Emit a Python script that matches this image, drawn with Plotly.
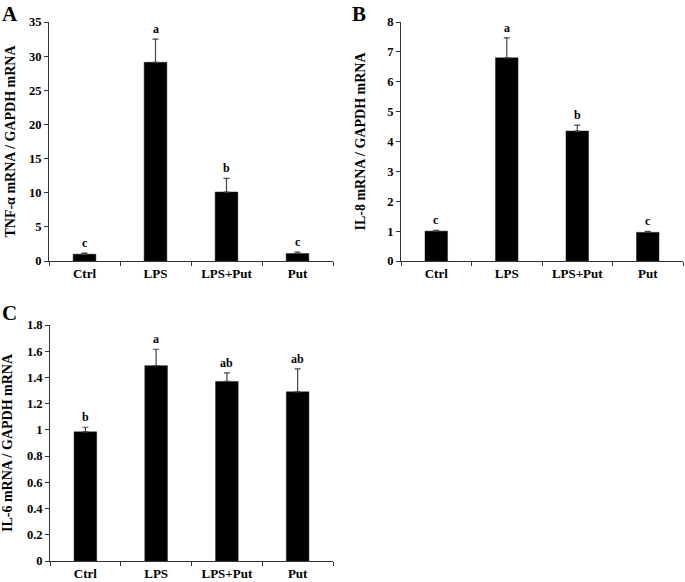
import plotly.graph_objects as go

groups = ["Ctrl", "LPS", "LPS+Put", "Put"]

tnf_mean = [1.0, 29.1, 10.1, 1.1]
tnf_err = [0.15, 3.4, 2.0, 0.2]
tnf_sig = ["c", "a", "b", "c"]

il8_mean = [1.0, 6.8, 4.35, 0.96]
il8_err = [0.03, 0.67, 0.2, 0.03]
il8_sig = ["c", "a", "b", "c"]

il6_mean = [0.985, 1.49, 1.37, 1.29]
il6_err = [0.035, 0.125, 0.065, 0.175]
il6_sig = ["b", "a", "ab", "ab"]

il6_ticks = [0, 0.2, 0.4, 0.6, 0.8, 1, 1.2, 1.4, 1.6, 1.8]
il6_ticktext = ["0", "0.2", "0.4", "0.6", "0.8", "1", "1.2", "1.4", "1.6", "1.8"]

W, H = 685, 582
FONT = "Liberation Serif"


def px_x(p):
    return p / W


def px_y(p):
    return 1 - p / H


panels = [
    # (means, errs, letters, title, yrange, dtick, xdomain px, ydomain px, label, label pos, title standoff)
    (tnf_mean, tnf_err, tnf_sig, "TNF-α mRNA / GAPDH mRNA", [0, 35], 5, (49, 333), (22, 261), "A", (0, 0), 10),
    (il8_mean, il8_err, il8_sig, "IL-8 mRNA / GAPDH mRNA", [0, 8], 1, (401, 683), (22, 261), "B", (350, 0), 18),
    (il6_mean, il6_err, il6_sig, "IL-6 mRNA / GAPDH mRNA", [0, 1.8], 0.2, (50, 333), (325, 561), "C", (0, 299), 10),
]

fig = go.Figure()
annotations = []

for i, (mean, err, sig, title, yr, dt, xd, yd, lab, lpos, so) in enumerate(panels):
    n = "" if i == 0 else str(i + 1)
    fig.add_trace(go.Bar(
        x=groups, y=mean, width=0.32,
        marker=dict(color="black", line=dict(color="#222", width=0.5)),
        error_y=dict(type="data", symmetric=False, array=err, arrayminus=[0] * len(err),
                     color="#444", thickness=1.2, width=3),
        xaxis="x" + n, yaxis="y" + n, showlegend=False,
    ))
    for g, m, e, s in zip(groups, mean, err, sig):
        annotations.append(dict(
            x=g, y=m + e, xref="x" + n, yref="y" + n, text=s, showarrow=False,
            yanchor="bottom", yshift=1, font=dict(family=FONT, size=12, color="black", weight="bold"),
        ))
    annotations.append(dict(
        x=px_x(lpos[0]), y=px_y(lpos[1]), xref="paper", yref="paper", text=lab,
        showarrow=False, xanchor="left", yanchor="top",
        font=dict(family=FONT, size=21, color="black", weight="bold"),
    ))
    xa = dict(
        domain=[px_x(xd[0]), px_x(xd[1])], anchor="y" + n, type="category",
        range=[-0.5, 3.5], showline=True, linecolor="#333", linewidth=1,
        ticks="outside", tickson="boundaries", ticklen=4, tickcolor="#333",
        showgrid=False, automargin=False,
        tickfont=dict(family=FONT, size=13, color="black", weight="bold"),
    )
    ya = dict(
        domain=[px_y(yd[1]), px_y(yd[0])], anchor="x" + n, range=yr,
        showline=True, linecolor="#333", linewidth=1,
        ticks="outside", ticklen=4, tickcolor="#333", showgrid=False, zeroline=False,
        automargin=False,
        title=dict(text=title, font=dict(family=FONT, size=14, color="black", weight="bold"), standoff=so),
        tickfont=dict(family=FONT, size=12.5, color="black", weight="bold"),
    )
    if lab == "C":
        ya.update(tickvals=il6_ticks, ticktext=il6_ticktext)
    else:
        ya.update(dtick=dt, tick0=0)
    fig.layout["xaxis" + n] = xa
    fig.layout["yaxis" + n] = ya

fig.update_layout(
    width=W, height=H, margin=dict(l=0, r=0, t=0, b=0),
    plot_bgcolor="white", paper_bgcolor="white",
    annotations=annotations,
)

fig.write_html("out.html", config={"displayModeBar": False},
               post_script="document.body.style.margin='0px';")
